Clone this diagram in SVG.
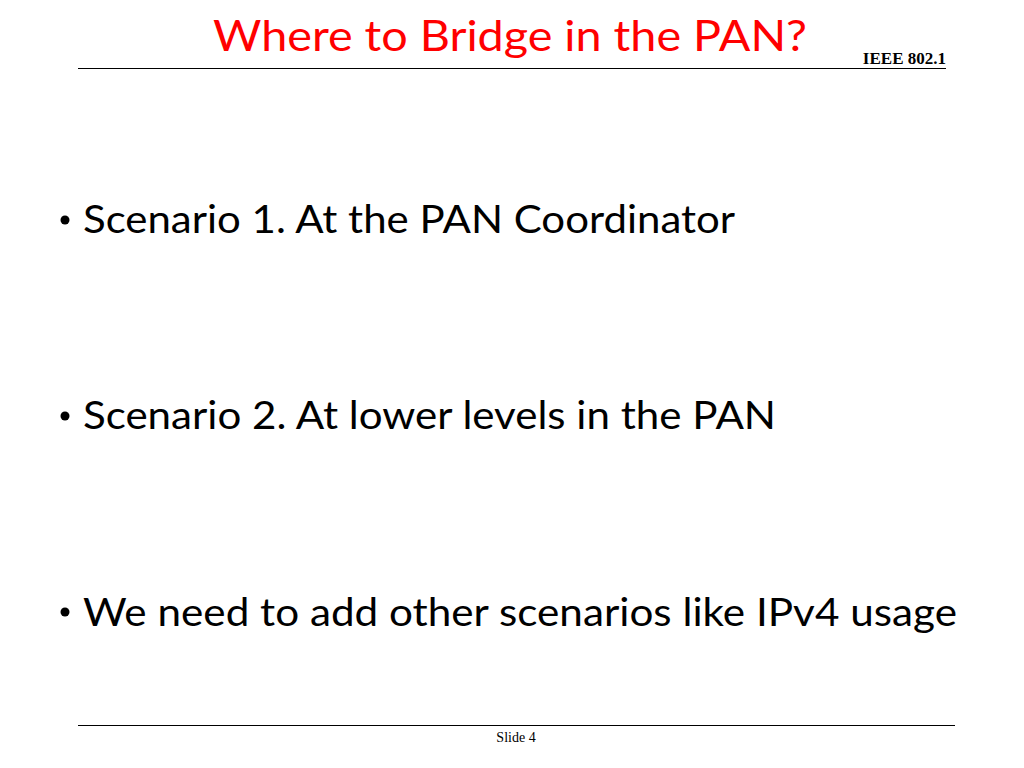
<svg xmlns="http://www.w3.org/2000/svg" width="1024" height="768" viewBox="0 0 1024 768">
<style>
.t{font-family:Lato,"Open Sans",sans-serif;}
.b{font-family:Lato,"Open Sans",sans-serif;font-size:38px;fill:#000}
.s{font-family:"Liberation Serif",serif;fill:#000}
</style>
<rect width="1024" height="768" fill="#fff"/>
<text class="t" x="510" y="51" font-size="43" fill="#ff0000" text-anchor="middle" textLength="594" lengthAdjust="spacingAndGlyphs">Where to Bridge in the PAN?</text>
<text class="s" x="946" y="64" font-size="17" font-weight="bold" text-anchor="end">IEEE 802.1</text>
<line x1="78" y1="68.5" x2="946" y2="68.5" stroke="#000" stroke-width="1.2"/>
<g class="b">
<circle cx="65" cy="220" r="4.5" fill="#000"/>
<text x="83" y="233" textLength="652" lengthAdjust="spacingAndGlyphs">Scenario 1. At the PAN Coordinator</text>
<circle cx="65" cy="416" r="4.5" fill="#000"/>
<text x="83" y="429" textLength="693" lengthAdjust="spacingAndGlyphs">Scenario 2. At lower levels in the PAN</text>
<circle cx="65" cy="612" r="4.5" fill="#000"/>
<text x="83" y="626" textLength="874" lengthAdjust="spacingAndGlyphs">We need to add other scenarios like IPv4 usage</text>
</g>
<line x1="78" y1="725.5" x2="955" y2="725.5" stroke="#000" stroke-width="1.2"/>
<text class="s" x="516" y="742" font-size="14" text-anchor="middle">Slide 4</text>
</svg>
